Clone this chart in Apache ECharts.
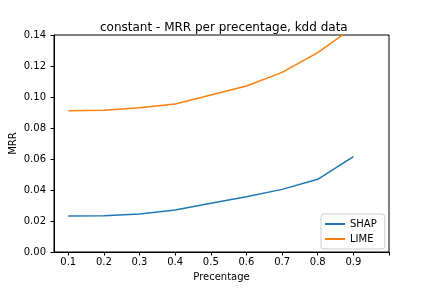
<!DOCTYPE html>
<html><head><meta charset="utf-8">
<script src="https://cdn.jsdelivr.net/npm/echarts@6/dist/echarts.min.js"></script>
<style>html,body{margin:0;padding:0;background:#fff}#c{width:432px;height:288px}</style>
</head><body><div id="c"></div>
<script>
const percentages = [0.1, 0.2, 0.3, 0.4, 0.5, 0.6, 0.7, 0.8, 0.9];
const shap = [0.0232, 0.0234, 0.0245, 0.0271, 0.0314, 0.0357, 0.0404, 0.0469, 0.0615];
const lime = [0.0912, 0.0914, 0.0931, 0.0955, 0.1013, 0.1071, 0.1159, 0.1286, 0.1450];
const xLabelValues = [0.1, 0.2, 0.3, 0.4, 0.5, 0.6, 0.7, 0.8, 0.9];
const xTickValues = [0.1, 0.2, 0.3, 0.4, 0.5, 0.6, 0.7, 0.8, 0.9, 1.0];

const font = 'DejaVu Sans';
const chart = echarts.init(document.getElementById('c'), null, {renderer: 'canvas'});
chart.setOption({
  animation: false,
  backgroundColor: '#fff',
  title: {
    text: 'constant - MRR per precentage, kdd data',
    left: 95, top: 17,
    textStyle: {fontFamily: font, fontSize: 12, fontWeight: 'normal', color: '#000'}
  },
  grid: {left: 54, right: 43, top: 35, bottom: 36, containLabel: false, outerBoundsMode: 'none',
    show: true, borderColor: '#000', borderWidth: 1, backgroundColor: 'transparent'},
  legend: {
    orient: 'vertical', left: 321, top: 214,
    padding: [5, 8, 5, 4], itemGap: 5,
    borderColor: '#ccc', borderWidth: 1, borderRadius: 3,
    icon: 'rect', itemWidth: 20, itemHeight: 2,
    textStyle: {fontFamily: font, fontSize: 10, color: '#000'},
    data: ['SHAP', 'LIME']
  },
  xAxis: {
    type: 'value', min: 0.06, max: 1.0,
    name: 'Precentage', nameLocation: 'middle', nameGap: 20, nameMoveOverlap: false,
    nameTextStyle: {fontFamily: font, fontSize: 10, color: '#000'},
    axisLine: {show: true, lineStyle: {color: '#000', width: 1}},
    axisTick: {show: true, length: 3.5, customValues: xTickValues, lineStyle: {color: '#000'}},
    axisLabel: {customValues: xLabelValues, fontFamily: font, fontSize: 10, color: '#000', margin: 5,
      formatter: v => (Math.round(v * 10) / 10).toFixed(1)},
    splitLine: {show: false}
  },
  yAxis: {
    type: 'value', min: 0, max: 0.14, interval: 0.02,
    name: 'MRR', nameLocation: 'middle', nameGap: 36, nameRotate: 90, nameMoveOverlap: false,
    nameTextStyle: {fontFamily: font, fontSize: 10, color: '#000'},
    axisLine: {show: true, lineStyle: {color: '#000', width: 1}},
    axisTick: {show: true, length: 3.5, lineStyle: {color: '#000'}},
    axisLabel: {fontFamily: font, fontSize: 10, color: '#000', margin: 8, formatter: v => v.toFixed(2)},
    splitLine: {show: false}
  },
  series: [
    {name: 'SHAP', type: 'line', showSymbol: false, symbol: 'none', clip: true,
     color: '#1f77b4', lineStyle: {width: 1.5, color: '#1f77b4'},
     data: percentages.map((p, i) => [p, shap[i]])},
    {name: 'LIME', type: 'line', showSymbol: false, symbol: 'none', clip: true,
     color: '#ff7f0e', lineStyle: {width: 1.5, color: '#ff7f0e'},
     data: percentages.map((p, i) => [p, lime[i]])}
  ]
});
</script>
</body></html>
